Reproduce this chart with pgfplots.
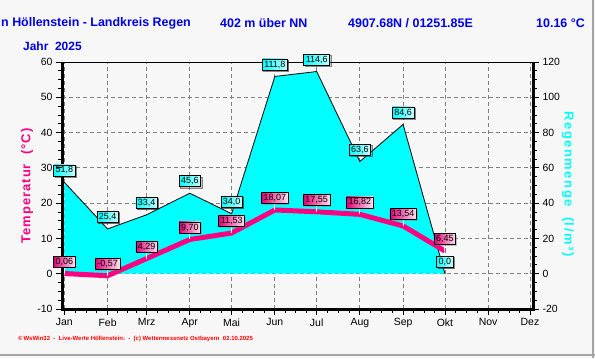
\documentclass[border=0pt]{standalone}
\usepackage{pgfplots}
\pgfplotsset{compat=1.18}
\usepackage{fontspec}
\setmainfont{Liberation Sans}
\usetikzlibrary{shadows}
\definecolor{bg}{RGB}{247,247,247}
\definecolor{tblue}{RGB}{0,0,230}
\definecolor{tpink}{RGB}{255,0,128}
\definecolor{tpinkdark}{RGB}{228,0,118}
\definecolor{tpinklight}{RGB}{255,226,240}
\definecolor{rcyan}{RGB}{0,255,255}
\definecolor{rcyanlight}{RGB}{200,255,255}
\definecolor{gridgray}{RGB}{128,128,128}
\definecolor{edgegray}{RGB}{165,165,165}
\tikzset{
  lbl/.style={font=\fontsize{9}{10}\selectfont, inner xsep=2bp, inner ysep=1.5bp,
    minimum height=11bp, anchor=center, yshift=12bp, draw=black, line width=0.6bp,
    drop shadow={shadow xshift=1.3bp, shadow yshift=-1.3bp, opacity=0.45, fill=gray}},
}
\pgfplotsset{
  common/.style={
    at={(0,0)}, anchor=south west,
    width=471bp, height=247bp, scale only axis,
    xmin=-1.7, xmax=336.2,
    clip=false,
    tick align=outside,
    major tick length=6bp, minor tick length=4bp,
    every tick/.style={black, line width=0.8bp},
    tick label style={font=\fontsize{10.5}{12}\selectfont},
    /pgf/number format/assume math mode=true,
  },
}
\begin{document}
\begin{tikzpicture}[x=1bp,y=1bp]
\clip (-62,-49) rectangle (533,309);
\fill[bg] (-62,-49) rectangle (533,309);
\draw[edgegray, line width=1.5bp] (531.2,-49) -- (531.2,309);
\draw[edgegray, line width=1.5bp] (-62,-46.2) -- (533,-46.2);

% ---- rain axis (right) with grid and month ticks
\begin{axis}[common,
  ymin=-20, ymax=120,
  axis background/.style={fill=bg},
  xtick={0,31,59,90,120,151,181,212,243,273,304,334},
  xticklabels={Jan,Feb,Mrz,Apr,Mai,Jun,Jul,Aug,Sep,Okt,Nov,Dez},
  minor xtick={7.75,15.5,23.25,38,45,52,66.75,74.5,82.25,97.5,105,112.5,127.75,135.5,143.25,158.5,166,173.5,188.75,196.5,204.25,219.75,227.5,235.25,250.5,258,265.5,280.75,288.5,296.25,311.5,319,326.5},
  xtick pos=bottom,
  ytick={-20,0,20,40,60,80,100,120},
  minor ytick={-15,-10,-5,5,10,15,25,30,35,45,50,55,65,70,75,85,90,95,105,110,115},
  ytick pos=right, yticklabel pos=right,
  grid=major,
  major grid style={gridgray, dash pattern=on 4bp off 3bp, line width=0.8bp},
  axis line style={line width=1bp},
]
\addplot[fill=rcyan, draw=none] coordinates {(0,0) (0,51.8) (31,25.4) (59,33.4) (90,45.6) (120,34.0) (151,111.8) (181,114.6) (212,63.6) (243,84.6) (273,0)} -- cycle;
\draw[black, line width=3bp] (rel axis cs:0,1) -- (rel axis cs:0,0) -- (rel axis cs:1,0) -- (rel axis cs:1,1);
\addplot[black, line width=0.8bp, nodes near coords, point meta=explicit symbolic,
  every node near coord/.style={lbl, left color=rcyan, right color=rcyanlight}]
  coordinates {(0,51.8)[51,8] (31,25.4)[25,4] (59,33.4)[33,4] (90,45.6)[45,6] (120,34.0)[34,0] (151,111.8)[111,8] (181,114.6)[114,6] (212,63.6)[63,6] (243,84.6)[84,6] (273,0)[0,0]};
\end{axis}

% ---- temperature axis (left)
\begin{axis}[common,
  ymin=-10, ymax=60,
  xtick=\empty,
  ytick={-10,0,10,20,30,40,50,60},
  minor ytick={-7.5,-5,-2.5,2.5,5,7.5,12.5,15,17.5,22.5,25,27.5,32.5,35,37.5,42.5,45,47.5,52.5,55,57.5},
  ytick pos=left,
  axis line style={draw=none},
]
\addplot[tpink, line width=5bp, line join=round,
  error bars/.cd, y dir=plus, y fixed=1.9,
  error bar style={white, line width=0.9bp}, error mark=none]
  coordinates {(0,0.06) (31,-0.57) (59,4.29) (90,9.70) (120,11.53) (151,18.07) (181,17.55) (212,16.82) (243,13.54) (273,6.45)};
\addplot[draw=none, nodes near coords, point meta=explicit symbolic,
  every node near coord/.style={lbl, left color=tpinkdark, right color=tpinklight}]
  coordinates {(0,0.06)[0,06] (31,-0.57)[-0,57] (59,4.29)[4,29] (90,9.70)[9,70] (120,11.53)[11,53] (151,18.07)[18,07] (181,17.55)[17,55] (212,16.82)[16,82] (243,13.54)[13,54] (273,6.45)[6,45]};
\end{axis}

% ---- texts
\begin{scope}[every node/.style={anchor=west, inner sep=0, text=tblue, font=\bfseries\fontsize{12.5}{14}\selectfont}]
\node at (-61,286) {n Höllenstein - Landkreis Regen};
\node at (158,286) {402 m über NN};
\node at (286,286) {4907.68N / 01251.85E};
\node at (474,286) {10.16 °C};
\node[font=\bfseries\fontsize{12}{14}\selectfont] at (-39,263) {Jahr\ \ 2025};
\end{scope}
\node[rotate=90, inner sep=0, text=tpink, font=\bfseries\fontsize{13}{15}\selectfont\addfontfeature{LetterSpace=8}] at (-35,123) {Temperatur\ \ (°C)};
\node[rotate=-90, inner sep=0, text=rcyan, font=\bfseries\fontsize{13}{15}\selectfont\addfontfeature{LetterSpace=12}] at (506,125) {Regenmenge\ \ (l/m³)};
\node[anchor=west, inner sep=0, text=red, font=\bfseries\fontsize{6}{7}\selectfont] at (-44,-30) {©\,WsWin32\ \ -\ \ Live-Werte Höllenstein:\ \ -\ \ (c) Wettermessnetz Ostbayern\ \ 02.10.2025};
\end{tikzpicture}
\end{document}
